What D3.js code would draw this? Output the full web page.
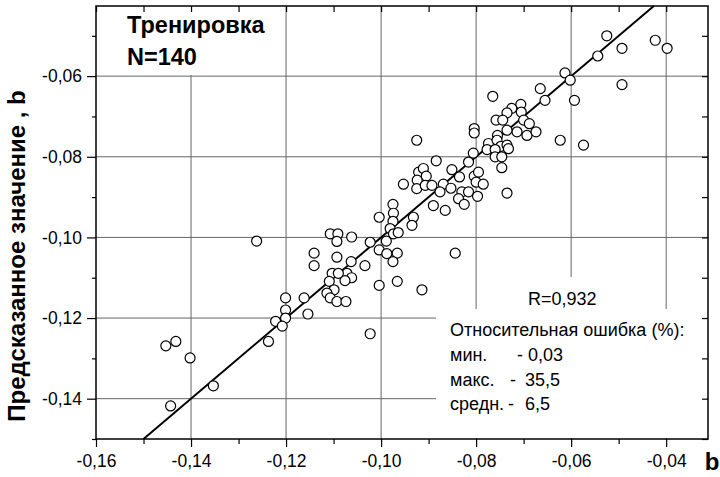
<!DOCTYPE html>
<html>
<head>
<meta charset="utf-8">
<script src="https://cdn.jsdelivr.net/npm/d3@7"></script>
<style>
  body { margin: 0; background: #fff; }
  svg { display: block; font-family: "Liberation Sans", Arial, sans-serif; }
</style>
</head>
<body>
<svg id="chart" width="720" height="477"></svg>
<script>
// experimental b (x) vs predicted b (y), training set
const xValues = [
  -0.0525, -0.0544, -0.0493, -0.0423, -0.0398, -0.0493, -0.0613, -0.0602, -0.0665, -0.0655,
  -0.0593, -0.0765, -0.0706, -0.0725, -0.0735, -0.0705, -0.0758, -0.0744, -0.0700, -0.0688,
  -0.0714, -0.0693, -0.0674, -0.0735, -0.0755, -0.0623, -0.0574, -0.0774, -0.0756, -0.0748,
  -0.0735, -0.0777, -0.0760, -0.0732, -0.0760, -0.0746, -0.0746, -0.0804, -0.0804, -0.0925,
  -0.0884, -0.0806, -0.0816, -0.0921, -0.0911, -0.0905, -0.0924, -0.0953, -0.0925, -0.0907,
  -0.0893, -0.0869, -0.0876, -0.0851, -0.0835, -0.0853, -0.0804, -0.0795, -0.0800, -0.0785,
  -0.0830, -0.0816, -0.0797, -0.0837, -0.0825, -0.0890, -0.0865, -0.0735, -0.0844, -0.0914,
  -0.0975, -0.0974, -0.1004, -0.0975, -0.0981, -0.0974, -0.0964, -0.0932, -0.0935, -0.1062,
  -0.1023, -0.0989, -0.1004, -0.0988, -0.0966, -0.0975, -0.1063, -0.1034, -0.1072, -0.1062,
  -0.1076, -0.1004, -0.0966, -0.1107, -0.1091, -0.1093, -0.1262, -0.1141, -0.1141, -0.1093,
  -0.1103, -0.1090, -0.1109, -0.1099, -0.1114, -0.1107, -0.1093, -0.1074, -0.1201, -0.1162,
  -0.1201, -0.1201, -0.1222, -0.1208, -0.1154, -0.1023, -0.1237, -0.1453, -0.1432, -0.1402,
  -0.1353, -0.1443
];
const yValues = [
  -0.0500, -0.0550, -0.0531, -0.0511, -0.0531, -0.0621, -0.0592, -0.0610, -0.0631, -0.0660,
  -0.0660, -0.0650, -0.0670, -0.0680, -0.0691, -0.0689, -0.0709, -0.0709, -0.0709, -0.0718,
  -0.0738, -0.0747, -0.0738, -0.0734, -0.0747, -0.0759, -0.0771, -0.0767, -0.0759, -0.0774,
  -0.0771, -0.0782, -0.0782, -0.0780, -0.0800, -0.0800, -0.0827, -0.0730, -0.0741, -0.0759,
  -0.0810, -0.0791, -0.0813, -0.0838, -0.0829, -0.0848, -0.0858, -0.0868, -0.0879, -0.0871,
  -0.0871, -0.0868, -0.0887, -0.0832, -0.0850, -0.0878, -0.0848, -0.0838, -0.0863, -0.0868,
  -0.0887, -0.0887, -0.0898, -0.0904, -0.0918, -0.0921, -0.0933, -0.0890, -0.1039, -0.1130,
  -0.0918, -0.0940, -0.0950, -0.0960, -0.0978, -0.0991, -0.0988, -0.0950, -0.0970, -0.0999,
  -0.1012, -0.1009, -0.1031, -0.1040, -0.1039, -0.1060, -0.1060, -0.1070, -0.1089, -0.1100,
  -0.1107, -0.1119, -0.1109, -0.0991, -0.0991, -0.1010, -0.1009, -0.1039, -0.1070, -0.1049,
  -0.1089, -0.1089, -0.1109, -0.1130, -0.1138, -0.1150, -0.1159, -0.1159, -0.1150, -0.1150,
  -0.1180, -0.1200, -0.1208, -0.1220, -0.1190, -0.1239, -0.1258, -0.1269, -0.1258, -0.1299,
  -0.1368, -0.1418
];

const xMajorTicks = [-0.16, -0.14, -0.12, -0.10, -0.08, -0.06, -0.04];
const xMinorTicks = [-0.15, -0.13, -0.11, -0.09, -0.07, -0.05];
const yMajorTicks = [-0.14, -0.12, -0.10, -0.08, -0.06];
const yMinorTicks = [-0.15, -0.13, -0.11, -0.09, -0.07, -0.05];

const fitLine = [-0.15, -0.0426]; // y = x

const titleLines = ['Тренировка', 'N=140'];
const rText = 'R=0,932';
const errTitle = 'Относительная ошибка (%):';
const errNames = ['мин.', 'макс.', 'средн.'];
const errValues = ['0,03', '35,5', '6,5'];

const svg = d3.select('#chart');
const plot = {left: 96, right: 708, top: 6, bottom: 439};

const x = d3.scaleLinear().domain([-0.16, -0.0312]).range([plot.left, plot.right]);
const y = d3.scaleLinear().domain([-0.15, -0.0426]).range([plot.bottom, plot.top]);

const fmt = d => (d < 0 ? '-' : '') + Math.abs(d).toFixed(2).replace('.', ',');

// grid
svg.append('g').selectAll('line')
  .data(xMajorTicks.slice(1))
  .enter().append('line')
  .attr('x1', d => x(d)).attr('x2', d => x(d))
  .attr('y1', plot.top).attr('y2', plot.bottom)
  .attr('stroke', '#666').attr('stroke-width', 1);
svg.append('g').selectAll('line')
  .data(yMajorTicks)
  .enter().append('line')
  .attr('x1', plot.left).attr('x2', plot.right)
  .attr('y1', d => y(d)).attr('y2', d => y(d))
  .attr('stroke', '#666').attr('stroke-width', 1);

// white boxes behind the text blocks
svg.append('rect').attr('x', plot.left + 1).attr('y', plot.top + 1).attr('width', 175).attr('height', 68).attr('fill', '#fff');
svg.append('rect').attr('x', 522).attr('y', 277).attr('width', 96).attr('height', 33).attr('fill', '#fff');
svg.append('rect').attr('x', 436).attr('y', 309).attr('width', 271).attr('height', 129).attr('fill', '#fff');

// axes
const bottomAxis = svg.append('g').attr('transform', `translate(0,${plot.bottom})`);
bottomAxis.call(d3.axisBottom(x).tickValues(xMajorTicks).tickSize(8).tickFormat(fmt));
bottomAxis.append('g').call(d3.axisBottom(x).tickValues(xMinorTicks).tickSize(5).tickFormat(''));

const leftAxis = svg.append('g').attr('transform', `translate(${plot.left},0)`);
leftAxis.call(d3.axisLeft(y).tickValues(yMajorTicks).tickSize(9).tickPadding(5).tickFormat(fmt));
leftAxis.append('g').call(d3.axisLeft(y).tickValues(yMinorTicks).tickSize(4).tickFormat(''));

const topAxis = svg.append('g').attr('transform', `translate(0,${plot.top})`);
topAxis.call(d3.axisBottom(x).tickValues(xMinorTicks.concat(xMajorTicks)).tickSize(6).tickFormat(''));

const rightAxis = svg.append('g').attr('transform', `translate(${plot.right},0)`);
rightAxis.call(d3.axisLeft(y).tickValues(yMinorTicks.concat(yMajorTicks)).tickSize(6).tickFormat(''));

svg.selectAll('.domain').remove();
svg.selectAll('.tick line').attr('stroke', '#000').attr('stroke-width', 1.2);
svg.selectAll('.tick text')
  .attr('fill', '#000')
  .style('font-size', '17.5px')
  .style('font-family', '"Liberation Sans", Arial, sans-serif');
bottomAxis.selectAll('.tick text').attr('dy', null).attr('y', 28);

// frame
svg.append('rect')
  .attr('x', plot.left).attr('y', plot.top)
  .attr('width', plot.right - plot.left).attr('height', plot.bottom - plot.top)
  .attr('fill', 'none').attr('stroke', '#000').attr('stroke-width', 1.5);

// regression line y = x
svg.append('line')
  .attr('x1', x(fitLine[0])).attr('y1', y(fitLine[0]))
  .attr('x2', x(fitLine[1])).attr('y2', y(fitLine[1]))
  .attr('stroke', '#000').attr('stroke-width', 2);

// points
svg.append('g').selectAll('circle')
  .data(xValues.map((d, i) => [d, yValues[i]]))
  .enter().append('circle')
  .attr('cx', d => x(d[0]))
  .attr('cy', d => y(d[1]))
  .attr('r', 5)
  .attr('fill', '#fff')
  .attr('stroke', '#000')
  .attr('stroke-width', 1.2);

// title block
svg.append('g').selectAll('text')
  .data(titleLines)
  .enter().append('text')
  .attr('x', 127)
  .attr('y', (d, i) => 33 + i * 32)
  .style('font-size', '23.5px')
  .style('font-weight', 'bold')
  .text(d => d);

// axis titles
svg.append('text')
  .attr('transform', 'translate(25,256) rotate(-90)')
  .attr('text-anchor', 'middle')
  .style('font-size', '24px')
  .style('font-weight', 'bold')
  .text('Предсказанное значение , b');

svg.append('text')
  .attr('x', 712).attr('y', 470)
  .attr('text-anchor', 'middle')
  .style('font-size', '24px')
  .style('font-weight', 'bold')
  .text('b');

// stats
svg.append('text').attr('x', 528).attr('y', 305).style('font-size', '18px').text(rText);
svg.append('text').attr('x', 450).attr('y', 336).style('font-size', '18px').text(errTitle);

const dashX = [517, 510, 508];
const valX = [528, 525, 525];
const rows = svg.append('g').selectAll('g')
  .data(errNames)
  .enter().append('g')
  .attr('transform', (d, i) => `translate(0,${361 + i * 24.5})`);
rows.append('text').attr('x', 450).style('font-size', '18px').text(d => d);
rows.append('text').attr('x', (d, i) => dashX[i]).style('font-size', '18px').text('-');
rows.append('text').attr('x', (d, i) => valX[i]).style('font-size', '18px').text((d, i) => errValues[i]);
</script>
</body>
</html>
